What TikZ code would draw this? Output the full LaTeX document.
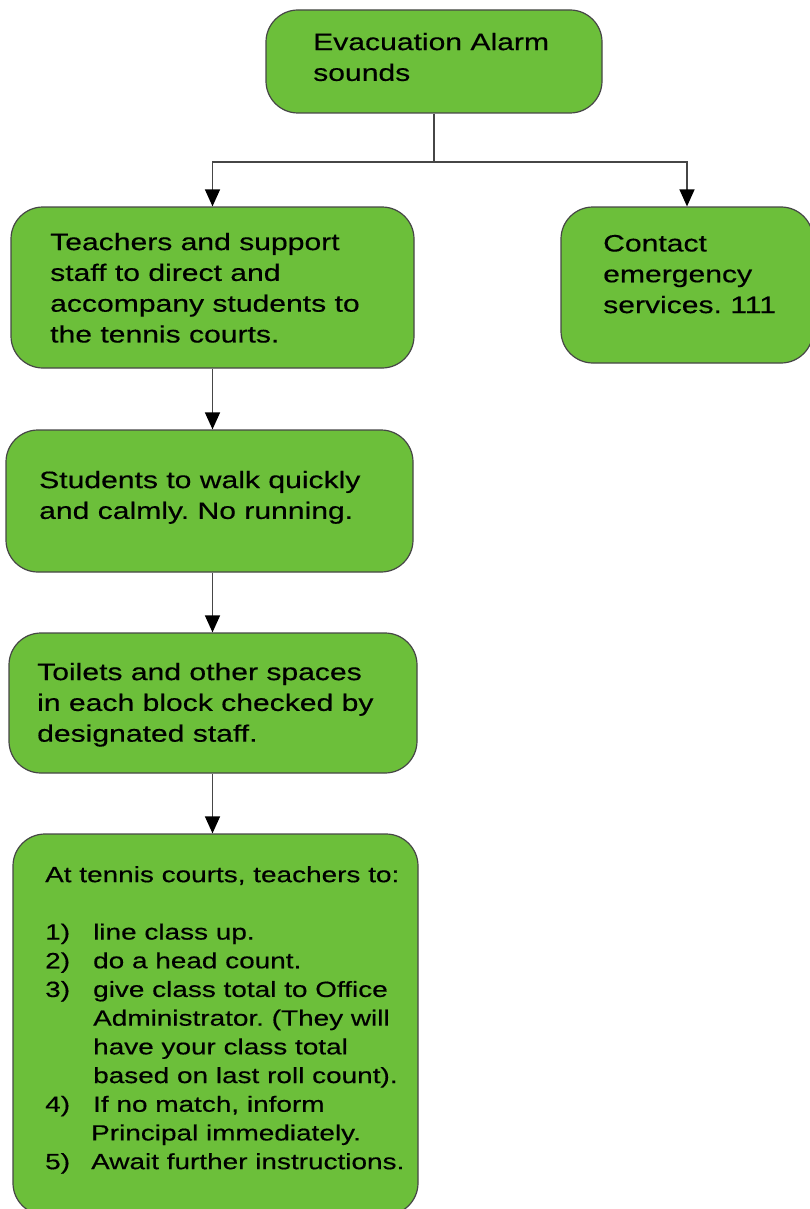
\documentclass[tikz,border=0pt]{standalone}
\usepackage{fontspec}
\setmainfont[FakeStretch=1.27,FakeBold=0.4]{Liberation Sans}
\usetikzlibrary{arrows.meta}
\definecolor{boxgreen}{RGB}{108,191,58}
\definecolor{edgegray}{RGB}{70,70,70}
\frenchspacing

\begin{document}
\begin{tikzpicture}[x=1pt,y=-1pt,
  box/.style={draw=edgegray, line width=1.2pt, fill=boxgreen, rounded corners=32pt, inner sep=0pt},
  txt/.style={anchor=north west, inner sep=0pt, align=left, font=\fontsize{23.7}{30.8}\selectfont},
  small/.style={anchor=north west, inner sep=0pt, align=left, font=\fontsize{22}{28.7}\selectfont},
  link/.style={draw=edgegray, line width=1.3pt},
  arr/.style={link, -{Triangle[length=17pt,width=15pt,color=black,fill=black]}}]
  \useasboundingbox (0,0) rectangle (810,1209);
  % boxes
  \node[box, minimum width=336pt, minimum height=103pt] at (434,61.5) (alarm) {};
  \node[box, minimum width=403pt, minimum height=161pt] at (212.5,287.5) (teach) {};
  \node[box, minimum width=252pt, minimum height=156pt] at (687,285) (contact) {};
  \node[box, minimum width=407pt, minimum height=142pt] at (209.5,501) (walk) {};
  \node[box, minimum width=408pt, minimum height=140pt] at (213,703) (check) {};
  \node[box, minimum width=405pt, minimum height=381pt] at (215.5,1024.5) (courts) {};
  % texts
  \node[txt] at (313,32.7) (alarmtxt) {Evacuation Alarm\\sounds};
  \node[txt] at (50,232.7) (teachtxt) {Teachers and support\\staff to direct and\\accompany students to\\the tennis courts.};
  \node[txt] at (603,234.7) (contacttxt) {Contact\\emergency\\services. 111};
  \node[txt] at (39,470.7) (walktxt) {Students to walk quickly\\and calmly. No running.};
  \node[txt] at (37,662.7) (checktxt) {Toilets and other spaces\\in each block checked by\\designated staff.};
  \node[small] at (45,866) (courtstxt) {At tennis courts, teachers to:\\[28.7pt]
    \makebox[48pt][l]{1)}line class up.\\
    \makebox[48pt][l]{2)}do a head count.\\
    \makebox[48pt][l]{3)}give class total to Office\\
    \makebox[48pt][l]{}Administrator. (They will\\
    \makebox[48pt][l]{}have your class total\\
    \makebox[48pt][l]{}based on last roll count).\\
    \makebox[48pt][l]{4)}If no match, inform\\
    \makebox[46pt][l]{}Principal immediately.\\
    \makebox[46pt][l]{5)}Await further instructions.};
  % connectors
  \coordinate (fork) at (434,162);
  \draw[link] (alarm.south) -- (fork);
  \draw[arr] (fork) -| (teach.north);
  \draw[arr] (fork) -| (contact.north);
  \draw[arr] (teach.south) -- (walk.north -| teach.south);
  \draw[arr] (walk.south -| teach.south) -- (check.north -| teach.south);
  \draw[arr] (check.south -| teach.south) -- (courts.north -| teach.south);
\end{tikzpicture}
\end{document}
